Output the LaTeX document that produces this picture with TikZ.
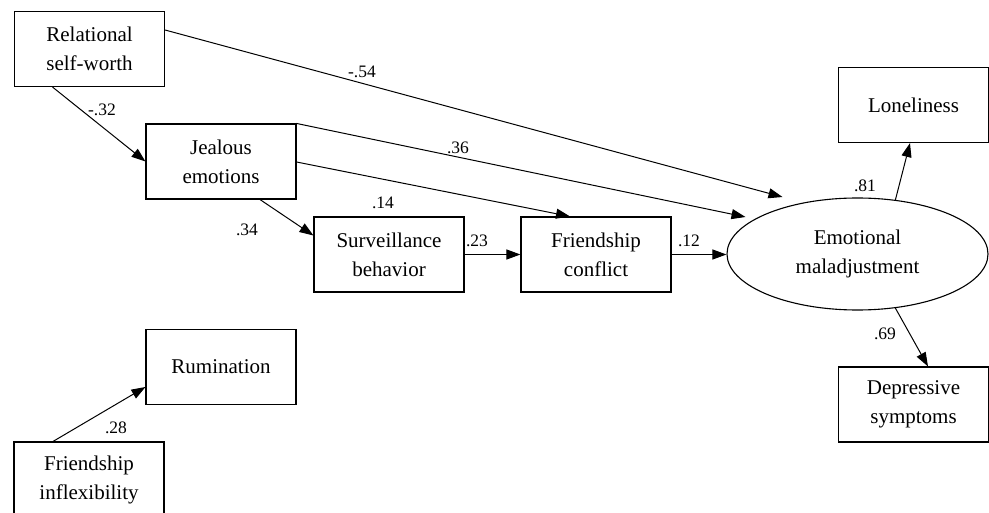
\documentclass[tikz,border=0pt]{standalone}
\usepackage{fontspec}
\setmainfont{Liberation Serif}
\usetikzlibrary{shapes.geometric,arrows.meta,calc}
\begin{document}
\begin{tikzpicture}[x=1pt,y=-1pt,
  varbox/.style={draw,line width=1.1pt,minimum width=150pt,minimum height=75pt,inner sep=0pt,align=center,font=\fontsize{21}{29}\selectfont},
  latent/.style={draw,ellipse,line width=1.1pt,minimum width=261pt,minimum height=112pt,inner sep=0pt,align=center,font=\fontsize{21}{29}\selectfont},
  path/.style={line width=1pt,-{Triangle[length=14pt,width=10pt]}},
  coef/.style={inner sep=0pt,font=\fontsize{17.5}{20}\selectfont}]
\useasboundingbox (0,0) rectangle (989,513);
\node[varbox] (rel) at (89.5,49) {Relational\\self-worth};
\node[varbox] (je) at (221,161.5) {Jealous\\emotions};
\node[varbox] (sb) at (389,254.5) {Surveillance\\behavior};
\node[varbox] (fc) at (596,254.5) {Friendship\\conflict};
\node[latent] (em) at (857.5,254) {Emotional\\maladjustment};
\node[varbox] (lo) at (913.5,105) {Loneliness};
\node[varbox] (dep) at (913.5,404.5) {Depressive\\symptoms};
\node[varbox] (rum) at (221,367) {Rumination};
\node[varbox] (fi) at (89,479.5) {Friendship\\inflexibility};

\draw[path] ($(rel.east)+(0,-19)$) -- ($(em.center)+(-75,-57)$);
\draw[path] (je.north east) -- ($(em.center)+(-112,-37)$);
\draw[path] ($(je.east)+(0,0.5)$) -- ($(fc.north)+(-26,0)$);
\draw[path] (sb.east) -- (fc.west);
\draw[path] (fc.east) -- (fc.east -| em.west);
\draw[path] ($(rel.south)+(-37,0)$) -- (je.west);
\draw[path] ($(je.south)+(39,0)$) -- ($(sb.west)+(0,-19)$);
\draw[path] (em.55) -- ($(lo.south)+(-3.5,0)$);
\draw[path] (em.-55) -- ($(dep.north)+(14.5,0)$);
\draw[path] ($(fi.north)+(-36,0)$) -- ($(rum.west)+(0,20)$);

\node[coef] (c1) at (362,72) {-.54};
\node[coef] (c2) at (102,110) {-.32};
\node[coef] (c3) at (458,148) {.36};
\node[coef] (c4) at (383,203) {.14};
\node[coef] (c5) at (247,230) {.34};
\node[coef] (c6) at (477,241) {.23};
\node[coef] (c7) at (689,241) {.12};
\node[coef] (c8) at (865,186) {.81};
\node[coef] (c9) at (885,334) {.69};
\node[coef] (c10) at (116,428) {.28};
\end{tikzpicture}
\end{document}
